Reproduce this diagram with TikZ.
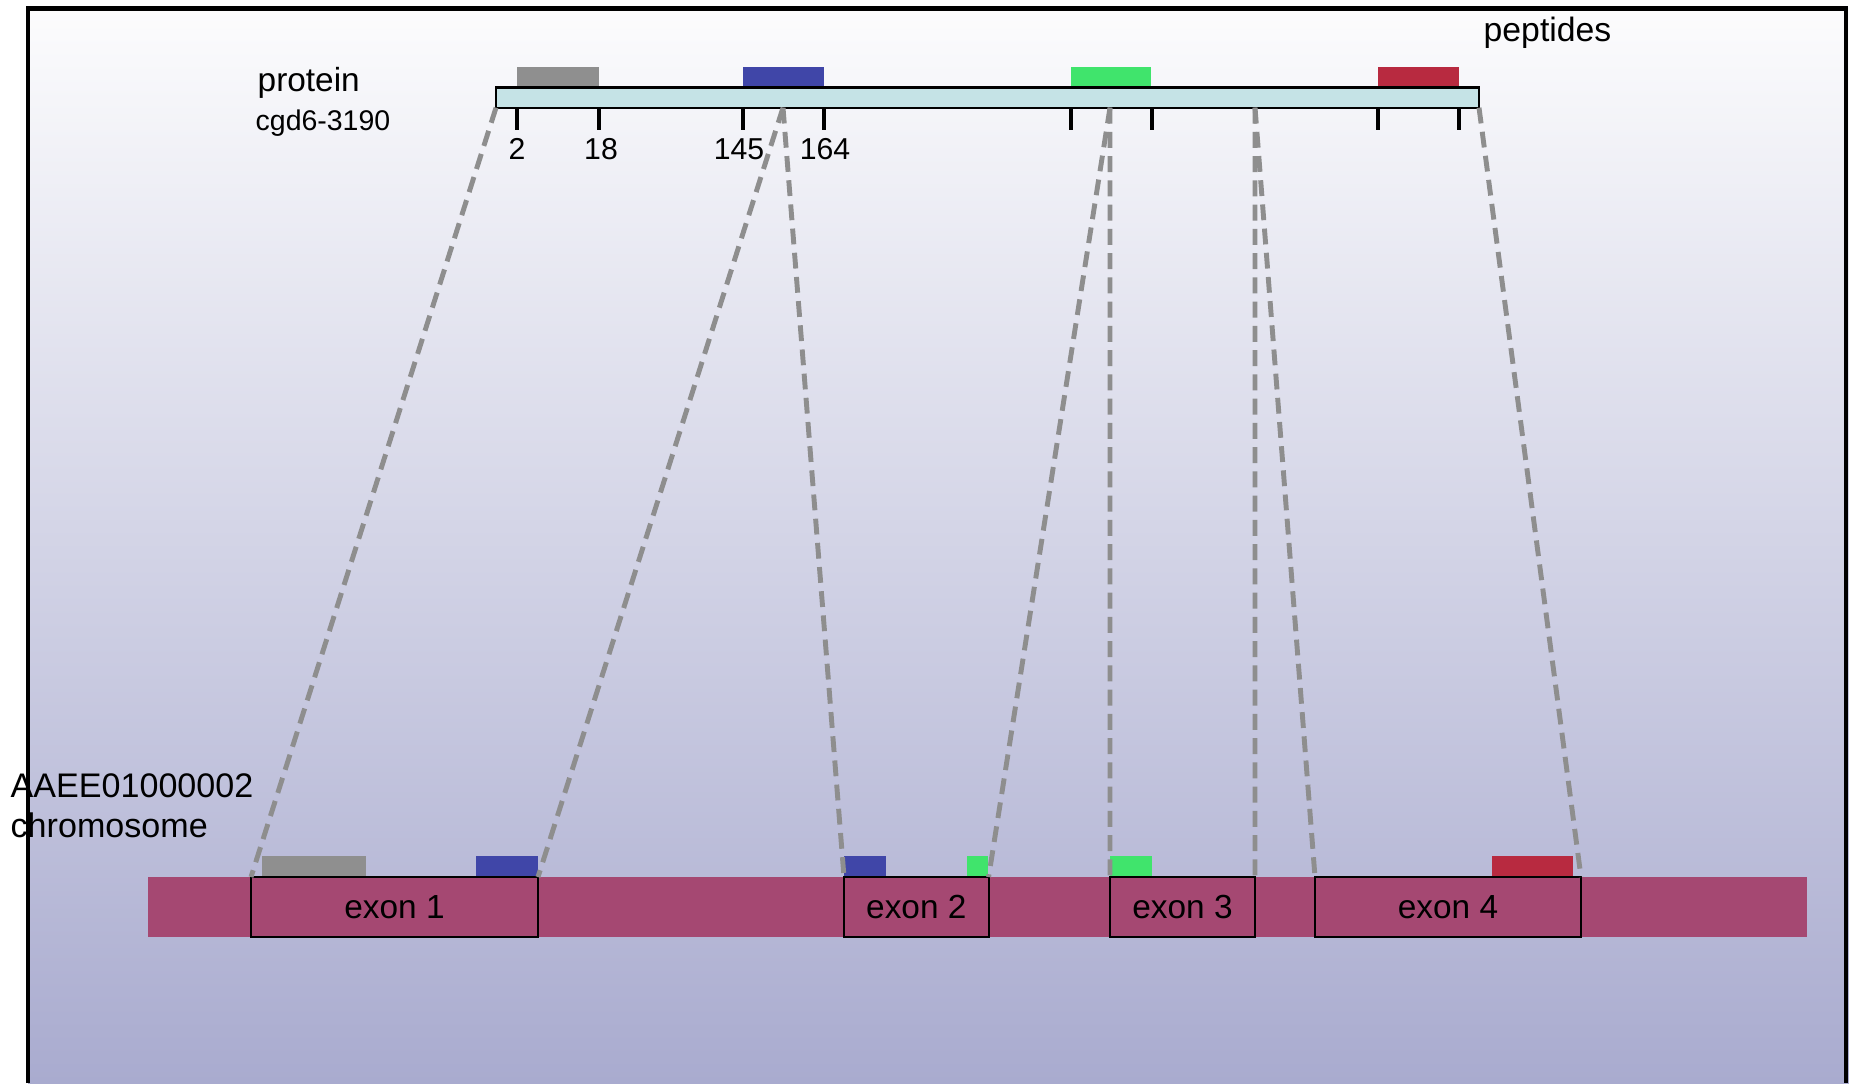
\documentclass[tikz,border=0pt]{standalone}
\usepackage{fontspec}
\setmainfont{Liberation Sans}
\usepackage{xcolor}
\definecolor{bgtop}{HTML}{FCFCFD}
\definecolor{bgbot}{HTML}{A9ABCF}
\definecolor{protfill}{HTML}{C5E3E6}
\definecolor{chromfill}{HTML}{A54872}
\definecolor{pepgray}{HTML}{8F8F8F}
\definecolor{pepblue}{HTML}{4046A8}
\definecolor{pepgreen}{HTML}{40E46C}
\definecolor{pepred}{HTML}{B82A40}
\definecolor{linkgray}{HTML}{8E8E8E}
\newcommand{\bigtxt}{\fontsize{9.5}{11}\selectfont}
\newcommand{\smalltxt}{\fontsize{8.6}{10}\selectfont}

\begin{document}
\begin{tikzpicture}[x=0.1mm, y=-0.1mm,
    exon/.style={draw, line width=0.6pt, fill=chromfill, inner sep=0pt, outer sep=0pt, minimum height=6mm, font=\bigtxt},
    link/.style={draw=linkgray, line width=1.4pt, dash pattern=on 4.5pt off 2.4pt},
    lbl/.style={anchor=base west, inner sep=0pt, font=\bigtxt},
    ticklbl/.style={anchor=base, inner sep=0pt, font=\smalltxt}]
      \useasboundingbox (0,0) rectangle (1849,1083);
      \shade[top color=bgtop, bottom color=bgbot] (28,8.5) rectangle (1849,1083);
      \draw[line width=1.4pt] (28,1083) -- (28,8.5) -- (1846,8.5) -- (1846,1083);

      \node[lbl, font=\fontsize{9.6}{11}\selectfont] (peptides) at (1483,41) {peptides};
      \node[lbl] (protein) at (257,91) {protein};
      \node[lbl, font=\fontsize{8.1}{10}\selectfont] (protname) at (255,130) {cgd6-3190};
      \node[lbl, font=\fontsize{9.7}{11}\selectfont] (accession) at (10,797) {AAEE01000002};
      \node[lbl, font=\fontsize{9.7}{11}\selectfont] (chromosome) at (10,837) {chromosome};

      \fill[pepgray] (517,67) rectangle (599,88);
      \fill[pepblue] (743,67) rectangle (824,88);
      \fill[pepgreen] (1071,67) rectangle (1151,88);
      \fill[pepred] (1378,67) rectangle (1459,88);
      \node[draw, fill=protfill, line width=0.6pt, inner sep=0pt, outer sep=0pt, minimum width=98.3mm, minimum height=2.02mm] (prot) at (987.5,97.6) {};
      \foreach \t in {517,599,743,824,1071,1152,1378,1459}
        \draw[line width=1.1pt] (\t,107.7) -- (\t,130);
      \foreach \t/\n in {517/2, 601/18, 739/145, 825/164}
        \node[ticklbl] (tick\n) at (\t,159) {\n};

      \fill[chromfill] (148,877) rectangle (1807,937);
      \node[exon, minimum width=28.7mm] (ex1) at (394.5,907) {exon 1};
      \node[exon, minimum width=14.46mm] (ex2) at (916.3,907) {exon 2};
      \node[exon, minimum width=14.5mm] (ex3) at (1182.5,907) {exon 3};
      \node[exon, minimum width=26.6mm] (ex4) at (1448,907) {exon 4};
      \fill[pepgray] (262,856) rectangle (366,876);
      \fill[pepblue] (476,856) rectangle (538,876);
      \fill[pepblue] (844,856) rectangle (886,876);
      \fill[pepgreen] (967,856) rectangle (988,876);
      \fill[pepgreen] (1110,856) rectangle (1152,876);
      \fill[pepred] (1492,856) rectangle (1573,876);

      \coordinate (s2) at (783,107.7);
      \coordinate (s3) at (1110,107.7);
      \coordinate (s4) at (1255,107.7);
      \draw[link] (prot.south west) -- (ex1.north west);
      \draw[link] (s2) -- (ex1.north east);
      \draw[link] (s2) -- (ex2.north west);
      \draw[link] (s3) -- (ex2.north east);
      \draw[link] (s3) -- (ex3.north west);
      \draw[link] (s4) -- (ex3.north east);
      \draw[link] (s4) -- (ex4.north west);
      \draw[link] (prot.south east) -- (ex4.north east);
\end{tikzpicture}
\end{document}
